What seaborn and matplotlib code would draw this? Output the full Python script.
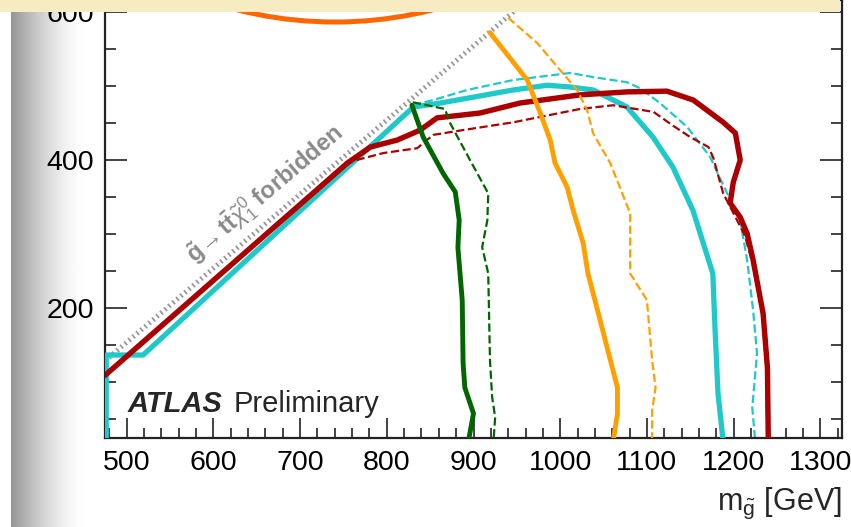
import numpy as np
import pandas as pd
import matplotlib
matplotlib.use("Agg")
import matplotlib.pyplot as plt
import seaborn as sns
from matplotlib.patches import Rectangle, Circle
from matplotlib.ticker import MultipleLocator

# ---------------- data ----------------
green_obs_x = [829, 842, 865, 879, 883.5, 882, 887, 888, 890, 900, 894]
green_obs_y = [474, 431, 382, 357, 319, 282, 211, 126, 93, 58, 20]

green_exp_x = [830, 867, 873, 896, 917, 916, 910, 917, 919, 921.5, 925, 923]
green_exp_y = [478, 469, 450, 400, 355, 319, 282.5, 247, 130, 80, 53, 20]

orange_obs_x = [919, 962, 977, 988.5, 994, 1008, 1015, 1026.5, 1032, 1046, 1055, 1066, 1066, 1061]
orange_obs_y = [572, 508, 463.5, 427, 396, 363.5, 332, 288, 247, 184, 143, 93, 58, 20]

orange_exp_x = [940, 973.5, 996.5, 1019.5, 1031, 1038, 1057.7, 1080.7, 1080.7, 1100, 1106, 1110, 1106, 1106]
orange_exp_y = [592, 558, 526, 494.6, 467.6, 436, 396, 328, 247, 211, 130, 93, 62, 20]

cyan_obs_x = [476.4, 476.4, 519, 830.6, 862, 946, 985, 1011.5, 1038, 1077, 1107, 1130, 1153, 1176, 1178.5, 1182, 1188]
cyan_obs_y = [20, 137, 137, 471.6, 477, 494.6, 501, 498.6, 494.6, 471.6, 431, 390.5, 332.4, 247, 174, 85, 20]

cyan_exp_x = [830.6, 853.5, 892.7, 945.8, 1011.5, 1038, 1077, 1092, 1115, 1146.5, 1173, 1192.5, 1207.5, 1215.6, 1222.5, 1227, 1221.5, 1225]
cyan_exp_y = [474, 481, 494.6, 508, 517.6, 512, 505, 497, 477, 444.6, 404, 355, 319, 265, 197, 139, 66, 20]

red_obs_x = [475, 754.5, 781, 812, 838.5, 858, 907.6, 953.7, 1023, 1077, 1123, 1153.5, 1188, 1202, 1207.6, 1199.6, 1196, 1207.6, 1215.6, 1222.5, 1234, 1239, 1240]
red_obs_y = [109.5, 396, 417.6, 427, 440.5, 457, 463.5, 477, 488, 492, 493, 481, 451, 436.5, 400, 370, 342, 323, 301, 265, 193, 120, 20]

red_exp_x = [752, 796, 835, 853.5, 888, 946, 1023, 1061, 1107.6, 1130.6, 1150, 1171, 1176.6, 1188, 1200, 1213, 1221.5, 1233, 1237.6, 1239]
red_exp_y = [396, 409.5, 416, 434, 440.5, 451, 469, 474, 465, 446, 431, 417.6, 403, 355, 328, 298, 262, 193, 120, 20]

forbidden_x = [475, 975]
forbidden_y = [129, 629]

x_major = [500, 600, 700, 800, 900, 1000, 1100, 1200, 1300]
y_major = [200, 400, 600]

# ---------------- style ----------------
sns.set_theme(style="ticks")
plt.rcParams["font.family"] = ["Liberation Sans", "DejaVu Sans"]
plt.rcParams["mathtext.fontset"] = "custom"
plt.rcParams["mathtext.rm"] = "Liberation Sans"
plt.rcParams["mathtext.it"] = "Liberation Sans:italic"
plt.rcParams["mathtext.bf"] = "Liberation Sans:bold"

W, H = 851, 527
fig = plt.figure(figsize=(W / 100, H / 100), dpi=100)
fig.patch.set_facecolor("white")

# grey gradient strip on the left
gax = fig.add_axes([11 / W, 0, 76 / W, 1])
t = np.linspace(0, 1, 200)
grad = 1 - 0.42 * (1 - t) ** 1.6
gax.imshow(grad[None, :], cmap="gray", vmin=0, vmax=1, aspect="auto")
gax.set_axis_off()

L, R, B = 105, 842, 438
ax = fig.add_axes([L / W, 1 - B / H, (R - L) / W, B / H])
ax.set_facecolor("white")
ax.set_xlim(475, 1325)
ax.set_ylim(25, 616)

# forbidden boundary
sns.lineplot(x=forbidden_x, y=forbidden_y, sort=False, estimator=None, ax=ax,
             color="#969696", linewidth=3.6, linestyle=(0, (0.35, 0.7)), zorder=1)

def curve(xs, ys, color, lw, ls, z):
    sns.lineplot(x=xs, y=ys, sort=False, estimator=None, ax=ax, color=color,
                 linewidth=lw, linestyle=ls, zorder=z)

cyan = "#1fc9c9"
red = "#aa0000"
green = "#006600"
orange = "#ffa000"
curve(cyan_exp_x, cyan_exp_y, cyan, 1.6, "--", 2)
curve(cyan_obs_x, cyan_obs_y, cyan, 3.8, "-", 3)
curve(red_exp_x, red_exp_y, red, 1.6, "--", 4)
curve(red_obs_x, red_obs_y, red, 3.9, "-", 5)
curve(green_exp_x, green_exp_y, green, 1.6, "--", 6)
curve(green_obs_x, green_obs_y, green, 3.5, "-", 7)
curve(orange_exp_x, orange_exp_y, orange, 1.6, "--", 8)
curve(orange_obs_x, orange_obs_y, orange, 3.5, "-", 9)

# ticks
ax.set_xticks(x_major)
ax.set_yticks(y_major)
ax.xaxis.set_minor_locator(MultipleLocator(20))
ax.yaxis.set_minor_locator(MultipleLocator(50))
ax.tick_params(axis="both", which="both", direction="in", color="#222222", width=1.2,
               labelsize=20.5, labelcolor="black")
ax.tick_params(axis="x", which="major", length=14.5, pad=9, top=False)
ax.tick_params(axis="x", which="minor", length=7.2, top=False)
ax.tick_params(axis="y", which="major", length=16, pad=8, right=True)
ax.tick_params(axis="y", which="minor", length=8, right=True)
for s in ["left", "right", "bottom", "top"]:
    ax.spines[s].set_color("#222222")
    ax.spines[s].set_linewidth(1.6)
ax.set_xlabel(r"$\mathrm{m}_{\tilde{\mathrm{g}}}$ [GeV]", fontsize=22, loc="right", labelpad=7)
ax.set_ylabel("")

# forbidden text
p1 = ax.transData.transform((forbidden_x[0], forbidden_y[0]))
p2 = ax.transData.transform((forbidden_x[1], forbidden_y[1]))
ang = np.degrees(np.arctan2(p2[1] - p1[1], p2[0] - p1[0]))
ax.text(578, 260, r"$\mathbf{\tilde{g}}\!\rightarrow \mathbf{t\bar{t}}\tilde{\chi}^{0}_{1}$ forbidden",
        rotation=ang, rotation_mode="anchor", ha="left", va="baseline",
        fontsize=17, fontweight="bold", color="#8a8a8a", zorder=1)

# ATLAS label
fig.text(128 / W, 1 - 412 / H, "ATLAS", fontsize=21, fontweight="bold", fontstyle="italic",
         ha="left", va="baseline", zorder=12)
fig.text(234 / W, 1 - 412 / H, "Preliminary", fontsize=21, ha="left", va="baseline", zorder=12)

# decorations at the top: orange circle and yellow band
fig.patches.append(Circle((3.35, (H - 22) / 100 + 4.0), 4.0, transform=fig.dpi_scale_trans,
                          fill=False, ec="#ff6600", lw=3.6, zorder=9))
fig.patches.append(Rectangle((0, 1 - 12 / H), 840 / W, 12 / H, transform=fig.transFigure,
                             fc="#f7ebc1", ec="none", zorder=10))

fig.savefig("out.png", dpi=100)
